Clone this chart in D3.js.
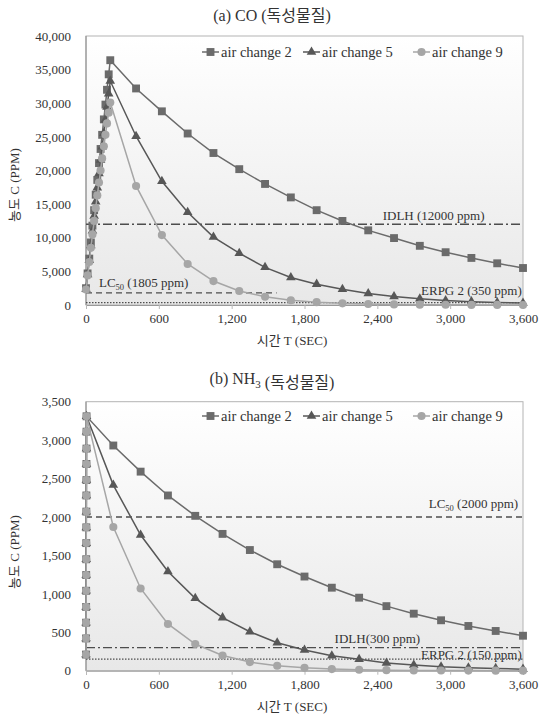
<!DOCTYPE html>
<html>
<head>
<meta charset="utf-8">
<script src="https://cdn.jsdelivr.net/npm/d3@7"></script>
<style>
  body { margin: 0; background: #fff; }
  text { font-family: "Liberation Serif", "Noto Sans CJK KR", serif; fill: #333; }
</style>
</head>
<body>
<div id="chart"></div>
<script>
// ---- data ----
const seriesNames = ["air change 2", "air change 5", "air change 9"];
const xTicks = [0, 600, 1200, 1800, 2400, 3000, 3600];

// (a) CO
const coTime = [0, 13, 27, 40, 53, 67, 80, 93, 107, 120, 133, 147, 160, 173, 187, 200,
  412.5, 625, 837.5, 1050, 1262.5, 1475, 1687.5, 1900, 2112.5, 2325, 2537.5, 2750, 2962.5, 3175, 3387.5, 3600];
const coAc2 = [2500, 4700, 6900, 9300, 11800, 14100, 16400, 18600, 21100, 23200, 25300, 27600, 29800, 32000, 34300, 36400,
  32200, 28800, 25500, 22600, 20200, 18000, 16000, 14100, 12500, 11100, 9950, 8800, 7850, 7000, 6200, 5500];
const coAc5 = [2400, 4550, 6650, 8850, 11050, 13250, 15350, 17450, 19550, 21550, 23550, 25550, 27550, 29450, 31400, 33300,
  25100, 18400, 13800, 10100, 7700, 5600, 4100, 3100, 2350, 1700, 1250, 930, 680, 500, 380, 290];
const coAc9 = [2300, 4400, 6400, 8500, 10500, 12500, 14400, 16300, 18200, 20000, 21800, 23600, 25300, 27000, 28600, 30100,
  17700, 10400, 6100, 3560, 2080, 1220, 710, 420, 245, 145, 85, 50, 30, 17, 10, 6];
const coYTicks = [0, 5000, 10000, 15000, 20000, 25000, 30000, 35000, 40000];

// (b) NH3
const nh3Time = [0, 0.3, 0.6, 0.9, 1.2, 1.5, 1.8, 2.1, 2.4, 2.7, 3, 3.3, 3.6, 3.9, 4.2, 4.5,
  225, 450, 675, 900, 1125, 1350, 1575, 1800, 2025, 2250, 2475, 2700, 2925, 3150, 3375, 3600];
const nh3Ac2 = [210, 420, 625, 830, 1040, 1245, 1450, 1660, 1865, 2070, 2280, 2480, 2690, 2890, 3110, 3310,
  2930, 2590, 2280, 2015, 1780, 1570, 1385, 1225, 1080, 950, 840, 742, 656, 582, 517, 455];
const nh3Ac5 = [210, 420, 625, 830, 1040, 1245, 1450, 1660, 1865, 2070, 2280, 2480, 2690, 2890, 3110, 3310,
  2415, 1765, 1290, 942, 690, 507, 364, 269, 195, 148, 100, 74, 52, 39, 30, 20];
const nh3Ac9 = [210, 420, 625, 830, 1040, 1245, 1450, 1660, 1865, 2070, 2280, 2480, 2690, 2890, 3110, 3310,
  1870, 1070, 608, 347, 198, 112, 64, 37, 21, 12, 7, 4, 2, 1.3, 0.8, 0.4];
const nh3YTicks = [0, 500, 1000, 1500, 2000, 2500, 3000, 3500];

// reference levels
const coLevels = [
  {name: "IDLH", value: 12000, text: "IDLH (12000 ppm)"},
  {name: "LC", value: 1805, text: " (1805 ppm)", until: 1570},
  {name: "ERPG", value: 350, text: "ERPG 2 (350 ppm)"}
];
const nh3Levels = [
  {name: "LC", value: 2000, text: " (2000 ppm)"},
  {name: "IDLH", value: 300, text: "IDLH(300 ppm)"},
  {name: "ERPG", value: 150, text: "ERPG 2 (150 ppm)"}
];

// ---- drawing ----
const svg = d3.select("#chart").append("svg")
    .attr("width", 545)
    .attr("height", 715);

const grad = svg.append("defs").append("linearGradient")
    .attr("id", "plotbg")
    .attr("x1", 0).attr("y1", 0).attr("x2", 0).attr("y2", 1);
grad.append("stop").attr("offset", "0%").attr("stop-color", "#ffffff");
grad.append("stop").attr("offset", "100%").attr("stop-color", "#e8e8e8");

const styles = [
  {color: "#6b6b6b", symbol: d3.symbolSquare, size: 62},
  {color: "#575757", symbol: d3.symbolTriangle, size: 40},
  {color: "#a6a6a6", symbol: d3.symbolCircle, size: 52}
];

const levelStyle = {
  IDLH: "9,3,2,3",
  LC: "6,4",
  ERPG: "1.5,1.5"
};

function drawChart(cfg) {
  const x = d3.scaleLinear().domain([0, 3600]).range([86, 523]);
  const y = d3.scaleLinear().domain([0, cfg.yMax]).range([cfg.bottom, cfg.top]);
  const g = svg.append("g");

  // plot area
  g.append("rect")
      .attr("x", x(0)).attr("y", y(cfg.yMax))
      .attr("width", x(3600) - x(0)).attr("height", y(0) - y(cfg.yMax))
      .attr("fill", "url(#plotbg)")
      .attr("stroke", "#b4b4b4");
  g.append("line")
      .attr("x1", x(0)).attr("x2", x(0))
      .attr("y1", y(cfg.yMax)).attr("y2", y(0))
      .attr("stroke", "#8a8a8a");

  // axes
  const xAxis = g.append("g")
      .attr("transform", "translate(0," + y(0) + ")")
      .call(d3.axisBottom(x).tickValues(xTicks).tickFormat(d3.format(",")).tickSize(4).tickPadding(5));
  xAxis.select(".domain").attr("stroke", "#9a9a9a");
  xAxis.selectAll(".tick line").attr("stroke", "#b8b8b8");
  xAxis.selectAll("text").style("font-size", "13px").attr("fill", "#333");

  const yAxis = g.append("g")
      .attr("transform", "translate(" + x(0) + ",0)")
      .call(d3.axisLeft(y).tickValues(cfg.yTicks).tickFormat(d3.format(",")).tickSize(0).tickPadding(15));
  yAxis.select(".domain").remove();
  yAxis.selectAll("text").style("font-size", "13px").attr("fill", "#333");

  // reference lines
  cfg.levels.forEach((lv, i) => {
    const endT = lv.until || 3600;
    g.append("line")
        .attr("x1", x(0)).attr("x2", x(endT))
        .attr("y1", y(lv.value)).attr("y2", y(lv.value))
        .attr("stroke", "#4d4d4d")
        .attr("stroke-width", lv.name === "ERPG" ? 1.3 : 1.4)
        .attr("stroke-dasharray", levelStyle[lv.name]);
    const p = cfg.labelPos[i];
    const t = g.append("text")
        .attr("x", x(p.t))
        .attr("y", y(lv.value) - p.dy)
        .attr("text-anchor", p.anchor)
        .style("font-size", "13px")
        .attr("fill", "#555");
    if (lv.name === "LC") {
      t.append("tspan").text("LC");
      t.append("tspan").attr("dy", 3).style("font-size", "8.5px").text("50");
      t.append("tspan").attr("dy", -3).text(lv.text);
    } else {
      t.text(lv.text);
    }
  });

  // series
  const line = d3.line().x(d => x(d[0])).y(d => y(d[1]));
  cfg.series.forEach((vals, i) => {
    const pts = cfg.times.map((tm, k) => [tm, vals[k]]);
    g.append("path")
        .datum(pts)
        .attr("fill", "none")
        .attr("stroke", styles[i].color)
        .attr("stroke-width", 1.5)
        .attr("d", line);
    g.append("g").selectAll("path")
        .data(pts)
        .join("path")
        .attr("transform", d => "translate(" + x(d[0]) + "," + y(d[1]) + ")")
        .attr("d", d3.symbol().type(styles[i].symbol).size(styles[i].size))
        .attr("fill", styles[i].color);
  });

  // legend
  const legendX = [202, 303, 413];
  seriesNames.forEach((name, i) => {
    const lg = g.append("g").attr("transform", "translate(" + legendX[i] + "," + cfg.legendY + ")");
    lg.append("line").attr("x1", 0).attr("x2", 17).attr("stroke", styles[i].color).attr("stroke-width", 1.5);
    lg.append("path")
        .attr("transform", "translate(8.5,0)")
        .attr("d", d3.symbol().type(styles[i].symbol).size(styles[i].size))
        .attr("fill", styles[i].color);
    lg.append("text")
        .attr("x", 19).attr("dy", "0.35em")
        .style("font-size", "14.5px")
        .attr("fill", "#333")
        .text(name);
  });

  // titles
  const title = g.append("text")
      .attr("x", 272).attr("y", cfg.titleY)
      .attr("text-anchor", "middle")
      .style("font-size", "16px")
      .attr("fill", "#222");
  cfg.title.forEach(part => {
    if (part.sub) {
      title.append("tspan").attr("dy", 4).style("font-size", "11px").text(part.sub);
      title.append("tspan").attr("dy", -4).text("");
    } else {
      title.append("tspan").text(part.text);
    }
  });

  g.append("text")
      .attr("x", 292).attr("y", cfg.xTitleY)
      .attr("text-anchor", "middle")
      .style("font-size", "13px")
      .attr("fill", "#444")
      .text("시간 T (SEC)");

  g.append("text")
      .attr("transform", "translate(19," + cfg.yTitleY + ") rotate(-90)")
      .attr("text-anchor", "middle")
      .style("font-size", "13px")
      .attr("fill", "#444")
      .text("농도 C (PPM)");
}

drawChart({
  top: 36, bottom: 305, yMax: 40000, yTicks: coYTicks,
  times: coTime, series: [coAc2, coAc5, coAc9],
  levels: coLevels,
  labelPos: [
    {t: 2444, dy: 4, anchor: "start"},
    {t: 107, dy: 6, anchor: "start"},
    {t: 3590, dy: 8, anchor: "end"}
  ],
  legendY: 52, titleY: 21, xTitleY: 345, yTitleY: 185,
  title: [{text: "(a)  CO (독성물질)"}]
});

drawChart({
  top: 401.7, bottom: 670.7, yMax: 3500, yTicks: nh3YTicks,
  times: nh3Time, series: [nh3Ac2, nh3Ac5, nh3Ac9],
  levels: nh3Levels,
  labelPos: [
    {t: 3560, dy: 9, anchor: "end"},
    {t: 2048, dy: 5, anchor: "start"},
    {t: 3590, dy: 0, anchor: "end"}
  ],
  legendY: 416, titleY: 384, xTitleY: 711, yTitleY: 552,
  title: [{text: "(b)  NH"}, {sub: "3"}, {text: " (독성물질)"}]
});
</script>
</body>
</html>
